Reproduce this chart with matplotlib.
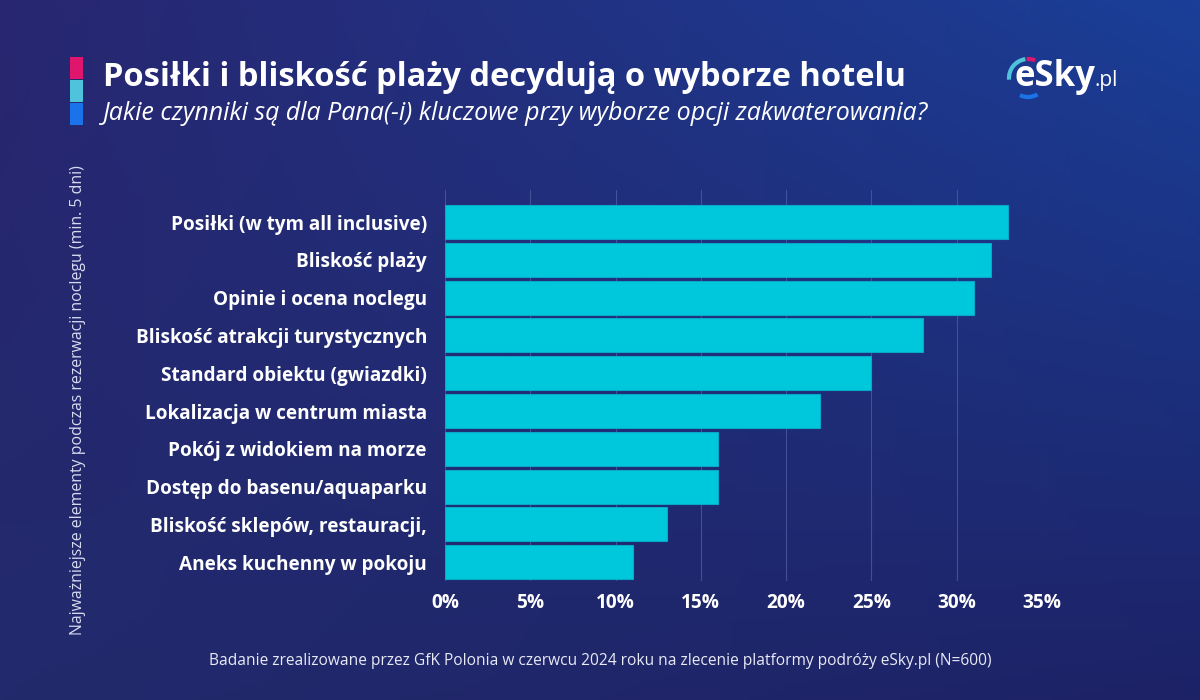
import numpy as np
import matplotlib.pyplot as plt
from matplotlib.patches import Rectangle, Arc
from matplotlib.colors import to_rgb

plt.rcParams['font.family'] = ['Open Sans', 'DejaVu Sans']

# dane z wykresu
categories = [
    "Posiłki (w tym all inclusive)",
    "Bliskość plaży",
    "Opinie i ocena noclegu",
    "Bliskość atrakcji turystycznych",
    "Standard obiektu (gwiazdki)",
    "Lokalizacja w centrum miasta",
    "Pokój z widokiem na morze",
    "Dostęp do basenu/aquaparku",
    "Bliskość sklepów, restauracji,",
    "Aneks kuchenny w pokoju",
]
values = [33, 32, 31, 28, 25, 22, 16, 16, 13, 11]
xticks = [0, 5, 10, 15, 20, 25, 30, 35]
xtick_labels = ["0%", "5%", "10%", "15%", "20%", "25%", "30%", "35%"]

title = "Posiłki i bliskość plaży decydują o wyborze hotelu"
subtitle = "Jakie czynniki są dla Pana(-i) kluczowe przy wyborze opcji zakwaterowania?"
ylabel = "Najważniejsze elementy podczas rezerwacji noclegu (min. 5 dni)"
footer = "Badanie zrealizowane przez GfK Polonia w czerwcu 2024 roku na zlecenie platformy podróży eSky.pl (N=600)"

W, H = 1200, 700
fig = plt.figure(figsize=(12, 7), dpi=100)

# tło - gradient
bg = fig.add_axes([0, 0, 1, 1])
tl, tr = np.array(to_rgb("#282670")), np.array(to_rgb("#1a3f98"))
bl, br = np.array(to_rgb("#222a6c")), np.array(to_rgb("#1d2266"))
u = np.linspace(0, 1, 240)[None, :, None]
v = np.linspace(0, 1, 140)[:, None, None]
grad = (1 - v) * ((1 - u) * tl + u * tr) + v * ((1 - u) * bl + u * br)
bg.imshow(grad, aspect='auto', extent=[0, W, H, 0])
bg.set_xlim(0, W)
bg.set_ylim(H, 0)
bg.axis('off')

# kolorowe kwadraty przy tytule
for y0, c in [(57, "#e0156e"), (80, "#4fc3dc"), (103, "#1a73e8")]:
    bg.add_patch(Rectangle((70, y0), 13, 22, color=c, lw=0))

bg.text(103, 78, title, color='white', fontsize=23.5, fontweight='bold', va='center', ha='left')
bg.text(103, 113, subtitle, color='white', fontsize=18, style='italic', va='center', ha='left')

# logo eSky.pl
bg.text(1015, 86, "eSky", color='white', fontsize=25, fontweight='bold', va='baseline', ha='left')
bg.text(1094, 86, ".pl", color='white', fontsize=15, va='baseline', ha='left')
bg.add_patch(Arc((1028, 78), 38, 38, theta1=175, theta2=262, color="#4fc3dc", lw=3))
bg.add_patch(Arc((1028, 78), 38, 38, theta1=266, theta2=292, color="#e0156e", lw=3))
bg.add_patch(Arc((1028, 78), 38, 38, theta1=60, theta2=115, color="#1a73e8", lw=3))

bg.text(78, 400, ylabel, color='#d8dcf0', fontsize=11.4, rotation=90, va='center', ha='center')
bg.text(600, 661, footer, color='#e8eaf5', fontsize=11.2, va='center', ha='center')

# wykres
ax_l, ax_r = 445, 1042
ax_t, ax_b = 190, 581
ax = fig.add_axes([ax_l / W, 1 - ax_b / H, (ax_r - ax_l) / W, (ax_b - ax_t) / H])
ax.patch.set_alpha(0)
y = np.arange(len(categories))
ax.barh(y, values, height=0.9, color="#00c8dc", edgecolor="#0aa8c8", linewidth=0.8, zorder=3)
ax.set_ylim(len(categories) - 0.5, -0.85)
ax.set_xlim(0, 35)
ax.set_xticks(xticks)
ax.set_xticklabels(xtick_labels)
ax.set_yticks(y)
ax.set_yticklabels(categories)
ax.grid(axis='x', color='#5a6ab0', linewidth=0.8, alpha=0.6, zorder=0)
ax.grid(axis='y', visible=False)
for s in ax.spines.values():
    s.set_visible(False)
ax.tick_params(length=0, colors='white', labelsize=13.7, pad=9)
ax.tick_params(axis='y', pad=13)
for t in ax.get_xticklabels() + ax.get_yticklabels():
    t.set_fontweight('bold')
    t.set_color('white')

fig.savefig("out.png", dpi=100)
